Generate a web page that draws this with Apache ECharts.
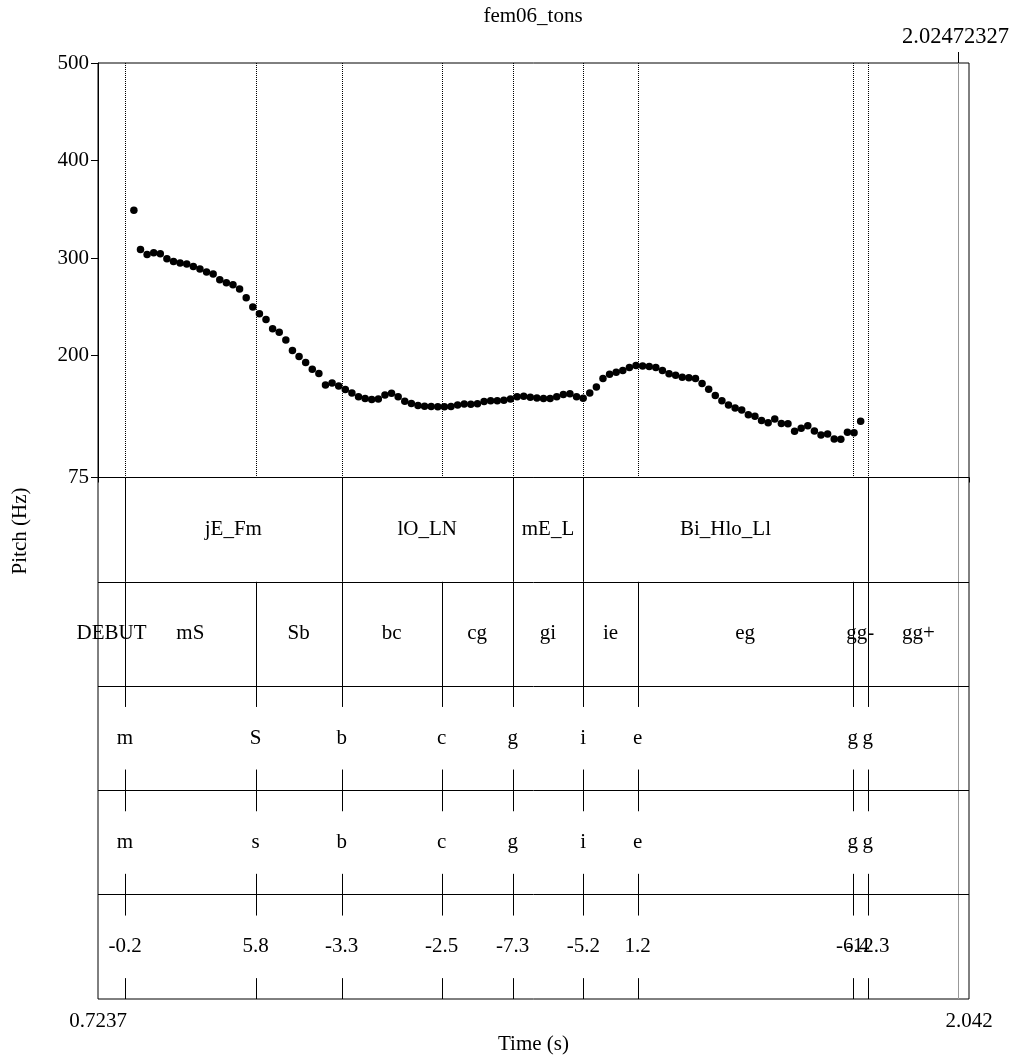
<!DOCTYPE html>
<html><head><meta charset="utf-8">
<script src="https://cdn.jsdelivr.net/npm/echarts@6/dist/echarts.min.js"></script>
<style>html,body{margin:0;padding:0;background:#fff}#c{width:1012px;height:1059px}</style>
</head><body><div id="c"></div>
<script>
const titleText = 'fem06_tons';
const xMin = 0.7237, xMax = 2.042;
const cursorTime = 2.02472327;
const pitchTicks = [75, 200, 300, 400, 500];
const timeTicks = [0.7237, 2.042];

const pitchTimes = [0.778,0.788,0.798,0.808,0.818,0.828,0.838,0.848,0.858,0.868,
0.878,0.888,0.898,0.908,0.918,0.928,0.938,0.948,0.958,0.968,
0.978,0.988,0.998,1.008,1.018,1.028,1.038,1.048,1.058,1.068,
1.078,1.088,1.098,1.108,1.118,1.128,1.138,1.148,1.158,1.168,
1.178,1.188,1.198,1.208,1.218,1.228,1.238,1.248,1.258,1.268,
1.278,1.288,1.298,1.308,1.318,1.328,1.338,1.348,1.358,1.368,
1.378,1.388,1.398,1.408,1.418,1.428,1.438,1.448,1.458,1.468,
1.478,1.488,1.498,1.508,1.518,1.528,1.538,1.548,1.558,1.568,
1.578,1.588,1.598,1.608,1.618,1.628,1.638,1.648,1.658,1.668,
1.678,1.688,1.698,1.708,1.718,1.728,1.738,1.748,1.758,1.768,
1.778,1.788,1.798,1.808,1.818,1.828,1.838,1.848,1.858,1.868,
1.878];
const pitchHz = [348.9,308.8,303.7,305.4,304.4,299.3,296.5,294.9,293.8,291.4,
288.7,285.6,283.6,277.7,274.6,272.6,268.2,259.2,249.7,242.8,
237.0,227.4,224.0,216.1,205.1,199.0,193.0,186.0,181.7,169.9,
172.0,168.9,165.3,161.7,157.9,155.9,155.0,155.5,159.7,161.5,
157.9,153.2,150.9,148.9,148.1,147.8,147.6,147.6,147.8,149.4,
150.4,150.1,150.6,152.8,153.8,153.8,154.2,155.5,157.9,158.4,
157.3,156.4,155.9,156.1,157.9,160.2,160.9,157.9,156.3,161.7,
167.7,176.4,180.9,182.8,184.6,187.7,189.9,189.4,188.9,187.9,
184.6,181.5,179.9,177.9,177.4,176.4,171.3,165.6,159.1,153.8,
149.4,146.3,144.3,139.4,137.8,133.5,131.1,135.0,130.4,130.1,
122.4,125.5,128.1,122.7,118.6,119.6,114.5,114.2,121.4,120.8,
132.6];

const phraseEdges = [0.7237, 0.7646, 1.0925, 1.3514, 1.4582, 1.8886, 2.042];
const phraseLabels = ['', 'jE_Fm', 'lO_LN', 'mE_L', 'Bi_Hlo_Ll', ''];
const segEdges = [0.7237, 0.7646, 0.9624, 1.0925, 1.2439, 1.3514, 1.4582, 1.5405, 1.8659, 1.8886, 2.042];
const segLabels = ['DEBUT', 'mS', 'Sb', 'bc', 'cg', 'gi', 'ie', 'eg', 'gg-', 'gg+'];
const pointTimes = [0.7646, 0.9624, 1.0925, 1.2439, 1.3514, 1.4582, 1.5405, 1.8659, 1.8886];
const pointLabelsA = ['m', 'S', 'b', 'c', 'g', 'i', 'e', 'g', 'g'];
const pointLabelsB = ['m', 's', 'b', 'c', 'g', 'i', 'e', 'g', 'g'];
const pointLabelsC = ['-0.2', '5.8', '-3.3', '-2.5', '-7.3', '-5.2', '1.2', '-6.4', '-12.3'];

const FONT = "'Liberation Serif', 'Times New Roman', serif";
const FS = 21;

const boundaryData = [];
const labelData = [];
const labelTexts = [];
[[phraseEdges, phraseLabels], [segEdges, segLabels]].forEach(([edges, labels], tier) => {
  for (let i = 1; i < edges.length - 1; i++) boundaryData.push([edges[i], tier]);
  for (let i = 0; i < labels.length; i++) {
    if (!labels[i]) continue;
    labelData.push([(edges[i] + edges[i + 1]) / 2, tier + 0.5]);
    labelTexts.push(labels[i]);
  }
});
const pointData = [];
[pointLabelsA, pointLabelsB, pointLabelsC].forEach((labels, k) => {
  const tier = 2 + k;
  pointTimes.forEach((t, i) => {
    pointData.push([t, tier]);
    labelData.push([t, tier + 0.5]);
    labelTexts.push(labels[i]);
  });
});
const pitchLineData = pointTimes.map(t => [t]);

const snap = x => Math.round(x) + 0.5;
const chart = echarts.init(document.getElementById('c'), null, {renderer: 'canvas'});
const L = 98, W = 871;
chart.setOption({
  animation: false,
  backgroundColor: '#fff',
  title: {text: titleText, left: 528, top: 1, textAlign: 'center',
    textStyle: {fontFamily: FONT, fontSize: FS, fontWeight: 'normal', color: '#000'}},
  grid: [
    {left: L, width: W, top: 63, height: 414.5},
    {left: L, width: W, top: 477.5, height: 521.5},
    {left: L, width: W, top: 63, height: 936, show: true, borderColor: '#000', borderWidth: 1, backgroundColor: 'transparent'}
  ],
  xAxis: [
    {gridIndex: 0, type: 'value', min: xMin, max: xMax, show: false},
    {gridIndex: 1, type: 'value', min: xMin, max: xMax,
      axisLine: {show: true, lineStyle: {color: '#000', width: 1}},
      axisTick: {show: true, inside: false, length: 5, customValues: timeTicks, lineStyle: {color: '#000'}},
      axisLabel: {customValues: timeTicks, margin: 12, color: '#000', fontFamily: FONT, fontSize: FS,
        formatter: v => String(v)},
      splitLine: {show: false},
      name: 'Time (s)', nameLocation: 'middle', nameGap: 35,
      nameTextStyle: {fontFamily: FONT, fontSize: FS, color: '#000'}},
    {gridIndex: 2, type: 'value', min: xMin, max: xMax, show: false}
  ],
  yAxis: [
    {gridIndex: 0, type: 'value', min: 75, max: 500,
      axisLine: {show: true, lineStyle: {color: '#000', width: 1}},
      axisTick: {show: true, inside: false, length: 7, customValues: pitchTicks, lineStyle: {color: '#000'}},
      axisLabel: {customValues: pitchTicks, margin: 9, color: '#000', fontFamily: FONT, fontSize: FS},
      splitLine: {show: false}},
    {gridIndex: 1, type: 'value', min: 0, max: 5, inverse: true, show: false},
    {gridIndex: 2, type: 'value', min: 0, max: 1,
      axisLine: {show: false}, axisTick: {show: false}, axisLabel: {show: false}, splitLine: {show: false},
      name: 'Pitch (Hz)', nameLocation: 'middle', nameGap: 67,
      nameTextStyle: {fontFamily: FONT, fontSize: FS, color: '#000'}}
  ],
  series: [
    {
      type: 'custom', xAxisIndex: 0, yAxisIndex: 0, silent: true,
      data: pitchLineData,
      renderItem: (params, api) => {
        const a = api.coord([api.value(0), 500]);
        const b = api.coord([api.value(0), 75]);
        const x = snap(a[0]);
        return {type: 'line', shape: {x1: x, y1: a[1], x2: x, y2: b[1]},
          style: {stroke: '#000', lineWidth: 1, lineDash: [1, 1]}};
      }
    },
    {
      type: 'scatter', xAxisIndex: 0, yAxisIndex: 0,
      data: pitchTimes.map((t, i) => [t, pitchHz[i]]),
      symbol: 'circle', symbolSize: 7.5,
      itemStyle: {color: '#000', opacity: 1},
      silent: true
    },
    {
      type: 'custom', xAxisIndex: 1, yAxisIndex: 1, silent: true,
      data: boundaryData,
      renderItem: (params, api) => {
        const p1 = api.coord([api.value(0), api.value(1)]);
        const p2 = api.coord([api.value(0), api.value(1) + 1]);
        return {type: 'line', shape: {x1: snap(p1[0]), y1: p1[1], x2: snap(p2[0]), y2: p2[1]},
          style: {stroke: '#000', lineWidth: 1}};
      },
      markLine: {
        silent: true, symbol: ['none', 'none'], label: {show: false},
        lineStyle: {color: '#000', type: 'solid', width: 1},
        data: [0, 1, 2, 3, 4].map(v => ({yAxis: v}))
      }
    },
    {
      type: 'custom', xAxisIndex: 1, yAxisIndex: 1, silent: true,
      data: pointData,
      renderItem: (params, api) => {
        const t = api.value(0), tier = api.value(1);
        const a = api.coord([t, tier]), b = api.coord([t, tier + 0.2]);
        const c = api.coord([t, tier + 0.8]), d = api.coord([t, tier + 1]);
        const x = snap(a[0]);
        return {type: 'group', children: [
          {type: 'line', shape: {x1: x, y1: a[1], x2: x, y2: b[1]}, style: {stroke: '#000', lineWidth: 1}},
          {type: 'line', shape: {x1: x, y1: c[1], x2: x, y2: d[1]}, style: {stroke: '#000', lineWidth: 1}}
        ]};
      }
    },
    {
      type: 'custom', xAxisIndex: 1, yAxisIndex: 1, silent: true, clip: false,
      data: labelData,
      renderItem: (params, api) => {
        const p = api.coord([api.value(0), api.value(1)]);
        return {type: 'text', x: p[0], y: p[1],
          style: {text: labelTexts[params.dataIndex], align: 'center', verticalAlign: 'middle',
            fontFamily: FONT, fontSize: FS, fill: '#000'}};
      }
    },
    {
      type: 'custom', xAxisIndex: 2, yAxisIndex: 2, silent: true, clip: false,
      data: [[cursorTime]],
      renderItem: (params, api) => {
        const top = api.coord([api.value(0), 1]);
        const bot = api.coord([api.value(0), 0]);
        const x = snap(top[0]);
        return {type: 'group', children: [
          {type: 'line', shape: {x1: x, y1: top[1], x2: x, y2: bot[1]}, style: {stroke: '#999', lineWidth: 1}},
          {type: 'line', shape: {x1: x, y1: top[1] - 11, x2: x, y2: top[1]}, style: {stroke: '#000', lineWidth: 1}},
          {type: 'text', x: x - 3, y: top[1] - 14,
            style: {text: String(cursorTime), align: 'center', verticalAlign: 'bottom',
              fontFamily: FONT, fontSize: 22.5, fill: '#000'}}
        ]};
      }
    }
  ]
});
</script>
</body></html>
